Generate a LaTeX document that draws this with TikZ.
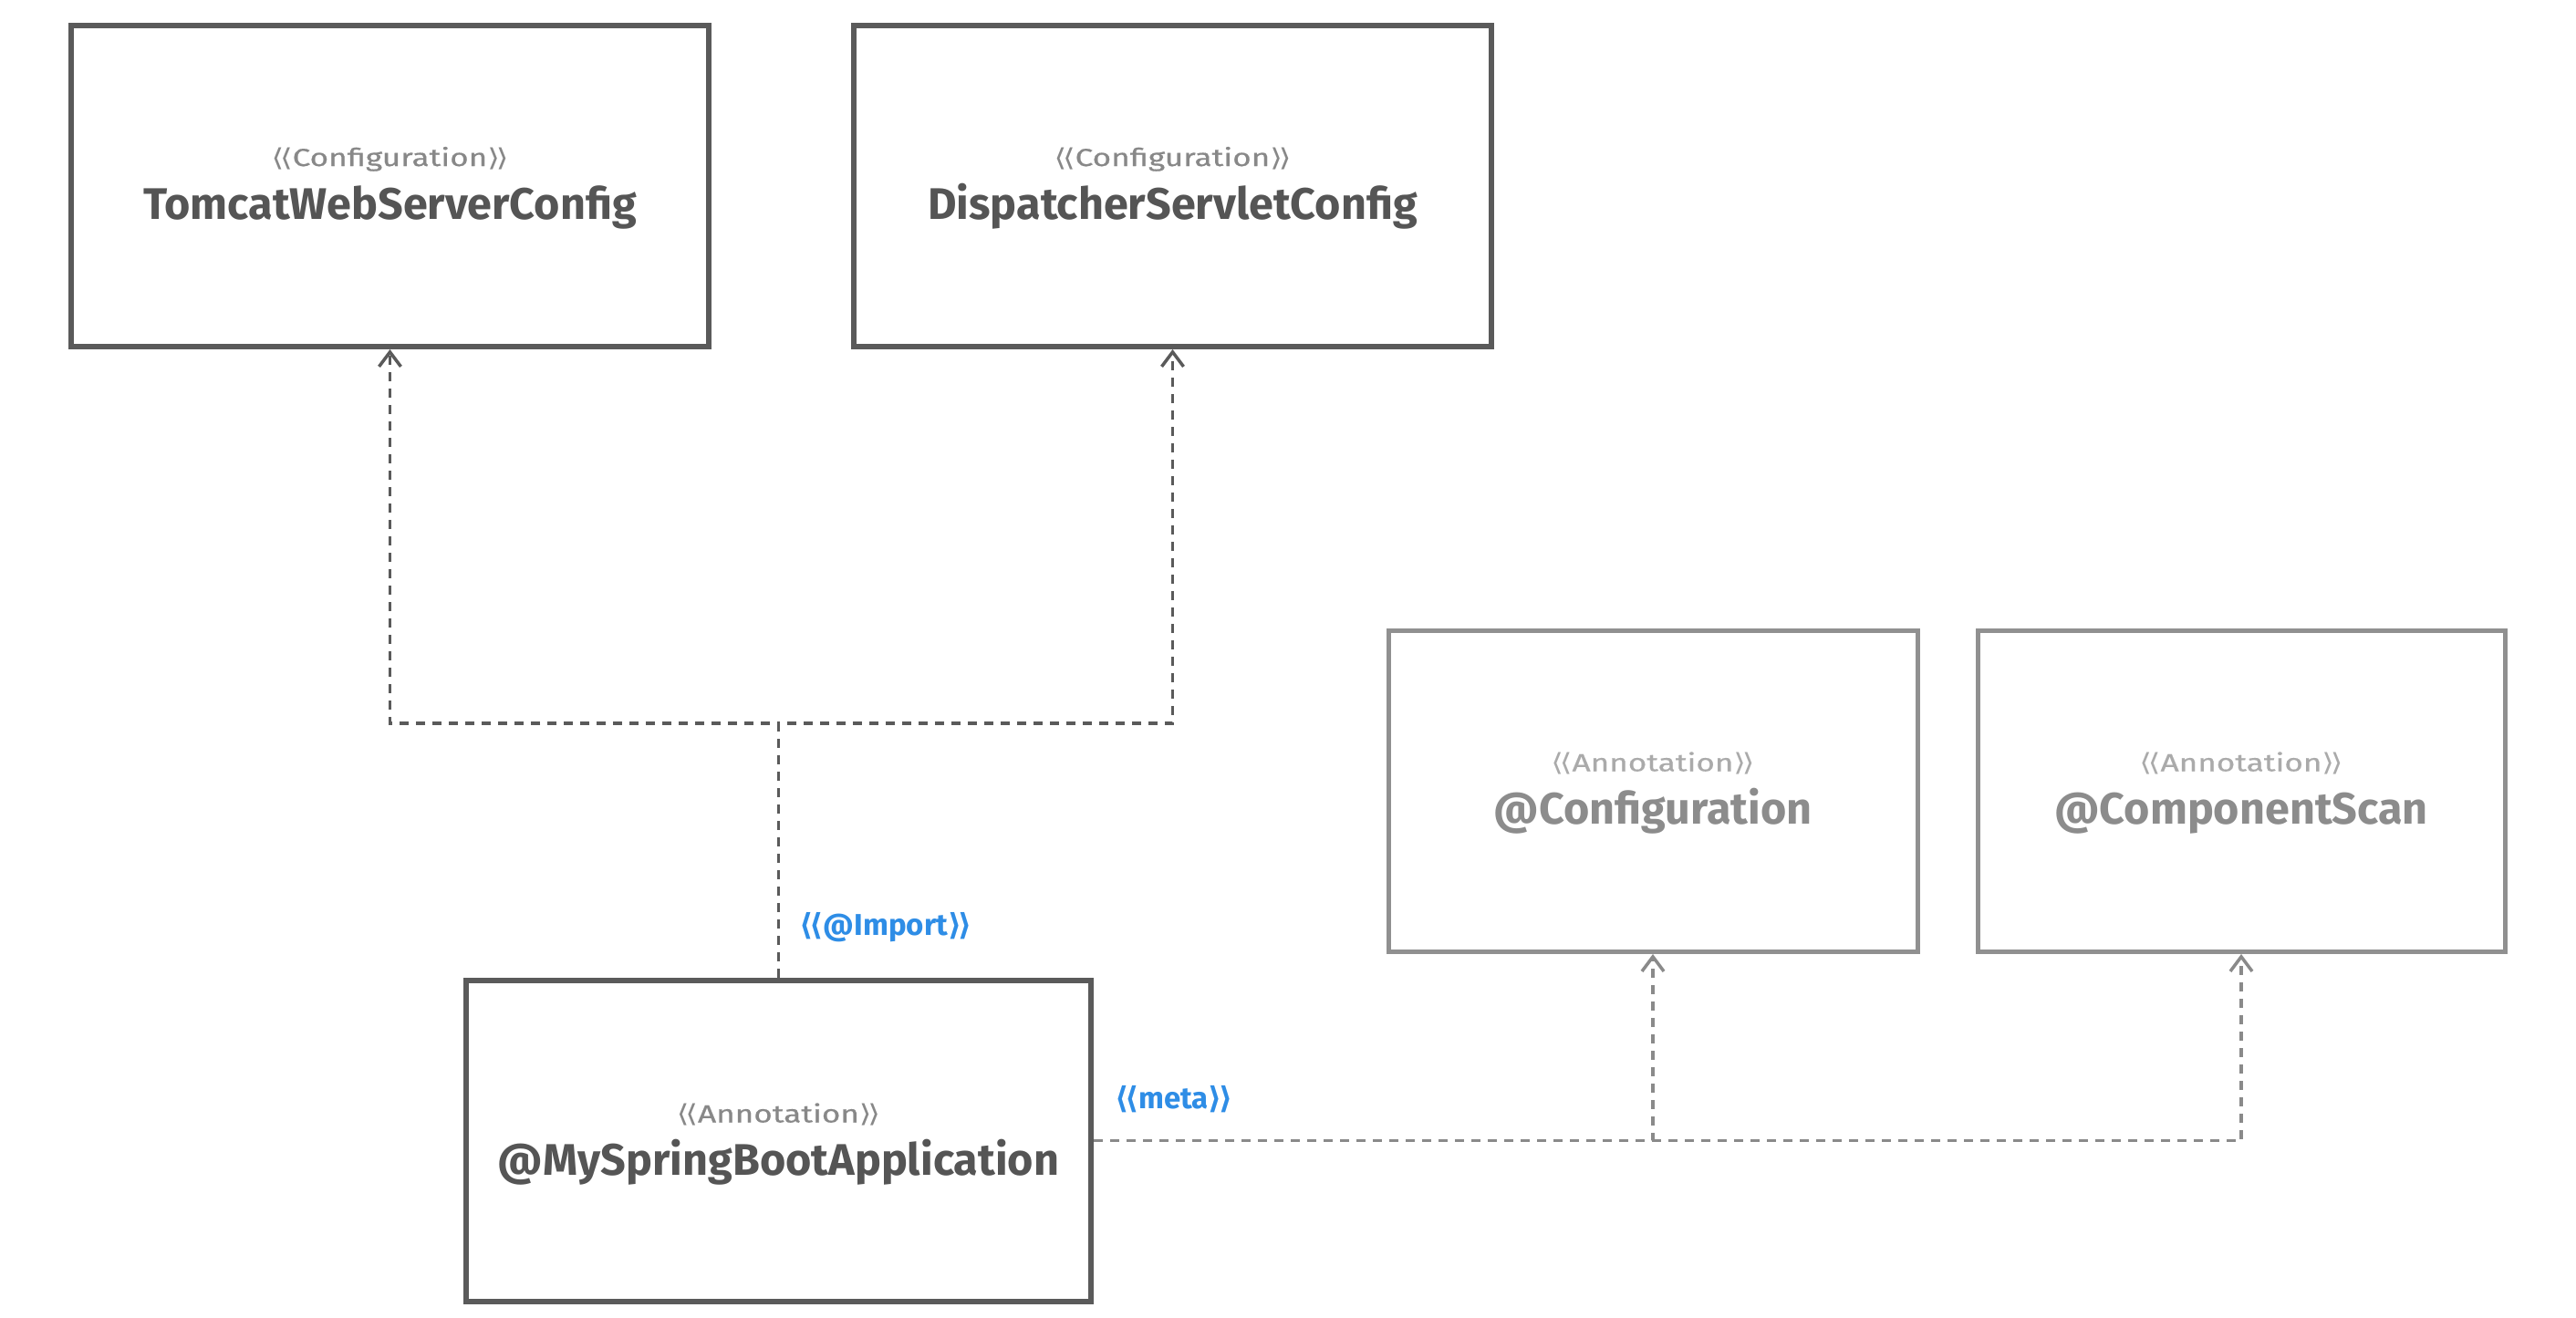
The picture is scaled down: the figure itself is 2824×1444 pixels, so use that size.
\documentclass[tikz,border=0pt]{standalone}
\usepackage{fontspec}
\setmainfont{Fira Sans}
\newfontfamily\djv{DejaVu Sans}
\usetikzlibrary{arrows.meta}
\definecolor{boxdark}{HTML}{5A5A5A}
\definecolor{boxlight}{HTML}{909090}
\definecolor{txtdark}{HTML}{555555}
\definecolor{txtlight}{HTML}{8C8C8C}
\definecolor{stdark}{HTML}{888888}
\definecolor{stlight}{HTML}{AAAAAA}
\definecolor{lblblue}{HTML}{2E8DE6}
\definecolor{linedark}{HTML}{5A5A5A}
\definecolor{linelight}{HTML}{8A8A8A}
\newcommand{\lgl}{{\djv\char"27E8\kern-0.12em\char"27E8}}
\newcommand{\rgl}{{\djv\char"27E9\kern-0.12em\char"27E9}}
\newcommand{\stereo}[1]{\scalebox{1.3}[1]{\lgl#1\rgl}}
\begin{document}
\begin{tikzpicture}[x=1pt,y=-1pt,
  umlbox/.style={draw, line width=6pt, fill=white, minimum width=699pt, minimum height=352pt, inner sep=0pt},
  darkbox/.style={umlbox, draw=boxdark},
  lightbox/.style={umlbox, draw=boxlight, line width=5pt, minimum width=580pt},
  sttext/.style={anchor=base, inner sep=0pt, font=\fontsize{27}{31}\selectfont\addfontfeature{FakeBold=0.5}},
  nmtext/.style={anchor=base, inner sep=0pt, font=\fontsize{48.5}{56}\selectfont\bfseries},
  lbl/.style={anchor=west, inner sep=0pt, text=lblblue, font=\fontsize{33}{38}\selectfont\bfseries},
  conn/.style={dashed, dash pattern=on 10pt off 8pt, line width=3.5pt},
  arr/.style={-{Straight Barb[length=16pt,width=24pt,line width=3.5pt]}}
]
\useasboundingbox (0,0) rectangle (2824,1444);
\fill[white] (0,0) rectangle (2824,1444);

% boxes
\node[darkbox] (tomcat) at (427.5,204) {};
\node[darkbox] (disp) at (1285.5,204) {};
\node[darkbox, minimum width=685pt] (app) at (853.5,1250.5) {};
\node[lightbox] (cfg) at (1812,867.5) {};
\node[lightbox, minimum width=578pt] (scan) at (2457,867.5) {};

% texts
\node[sttext, text=stdark] (tomcatst) at ([yshift=22pt]tomcat.center) {\stereo{Configuration}};
\node[nmtext, text=txtdark] (tomcatnm) at ([yshift=-36pt]tomcat.center) {TomcatWebServerConfig};
\node[sttext, text=stdark] (dispst) at ([yshift=22pt]disp.center) {\stereo{Configuration}};
\node[nmtext, text=txtdark] (dispnm) at ([yshift=-36pt]disp.center) {DispatcherServletConfig};
\node[sttext, text=stdark] (appst) at ([yshift=20pt]app.center) {\stereo{Annotation}};
\node[nmtext, text=txtdark] (appnm) at ([yshift=-38pt]app.center) {@MySpringBootApplication};
\node[sttext, text=stlight] (cfgst) at ([yshift=22pt]cfg.center) {\stereo{Annotation}};
\node[nmtext, text=txtlight] (cfgnm) at ([yshift=-36pt]cfg.center) {@Configuration};
\node[sttext, text=stlight] (scanst) at ([yshift=22pt]scan.center) {\stereo{Annotation}};
\node[nmtext, text=txtlight] (scannm) at ([yshift=-36pt]scan.center) {@ComponentScan};

% import connectors
\coordinate (ij) at (853.5,793);
\draw[conn, arr, draw=linedark] (app.north) -- (ij) -| (tomcat.south);
\draw[conn, arr, draw=linedark] (app.north) -- (ij) -| (disp.south);
\node[lbl] (implbl) at ([xshift=23pt,yshift=55pt]app.north) {\lgl@Import\rgl};

% meta connectors
\draw[conn, arr, draw=linelight] (app.east) -| (cfg.south);
\draw[conn, arr, draw=linelight] (app.east) -| (scan.south);
\node[lbl] (metalbl) at ([xshift=23pt,yshift=45pt]app.east) {\lgl meta\rgl};
\end{tikzpicture}
\end{document}
